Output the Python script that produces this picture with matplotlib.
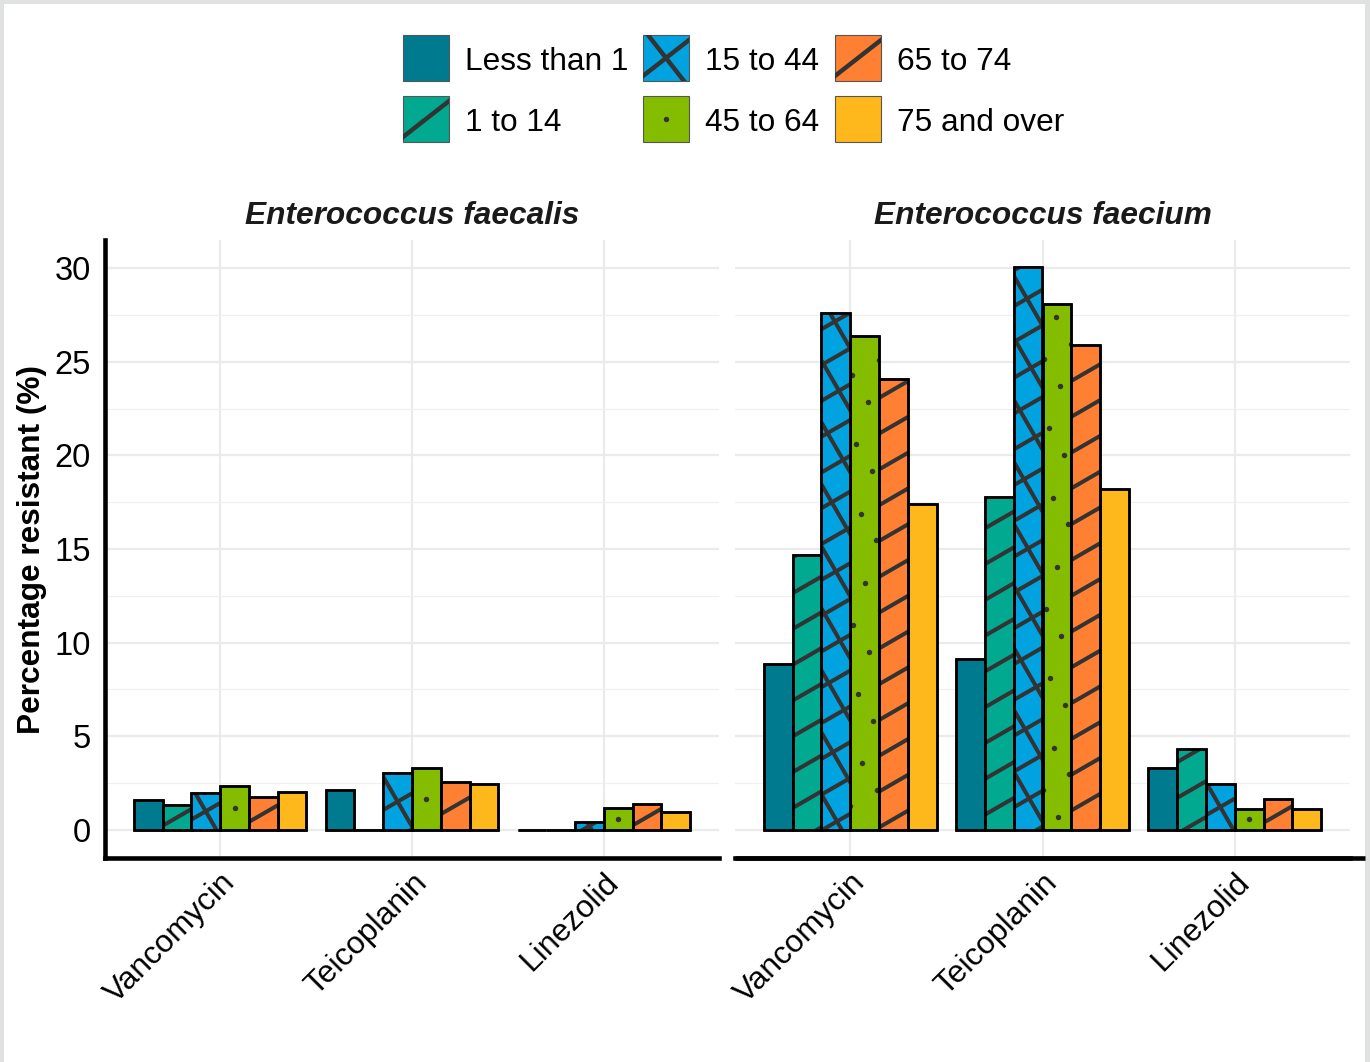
import numpy as np
import matplotlib
matplotlib.use('Agg')
import matplotlib.pyplot as plt
from matplotlib.patches import Rectangle
from matplotlib.lines import Line2D

plt.rcParams['font.family'] = ['Liberation Sans', 'DejaVu Sans']

antibiotics = ['Vancomycin', 'Teicoplanin', 'Linezolid']
age_groups = ['Less than 1', '1 to 14', '15 to 44', '45 to 64', '65 to 74', '75 and over']
species = ['Enterococcus faecalis', 'Enterococcus faecium']

# percentage resistant by age group (same order as age_groups)
faecalis_vancomycin = [1.6, 1.33, 1.99, 2.34, 1.74, 2.0]
faecalis_teicoplanin = [2.13, 0.0, 3.02, 3.29, 2.57, 2.43]
faecalis_linezolid = [0.0, 0.0, 0.43, 1.19, 1.37, 0.98]
faecium_vancomycin = [8.84, 14.7, 27.6, 26.4, 24.1, 17.4]
faecium_teicoplanin = [9.1, 17.8, 30.05, 28.1, 25.9, 18.2]
faecium_linezolid = [3.29, 4.3, 2.45, 1.12, 1.65, 1.1]

colours = ['#007A8F', '#00A98F', '#00A3E0', '#84BD00', '#FF8033', '#FFB81C']
patterns = ['none', 'stripe', 'crosshatch', 'dots', 'stripe', 'none']

W, H = 1370, 1062
FS = 22.8
INK = '#333333'

fig = plt.figure(figsize=(W / 100, H / 100), dpi=100)


def px_axes(left, top, right, bottom):
    return fig.add_axes([left / W, 1 - bottom / H, (right - left) / W, (bottom - top) / H])


def add_pattern(ax, patch, kind, spacing=31, angle=30, lw=2.9):
    # ggpattern-like fill: lines / dots laid out in pixel space, clipped to the patch
    if kind == 'none' or patch.get_height() == 0:
        return
    bb = patch.get_window_extent()
    centre = np.array([(bb.x0 + bb.x1) / 2, (bb.y0 + bb.y1) / 2])
    reach = np.hypot(bb.width, bb.height) / 2 + spacing
    n = int(reach / spacing) + 1
    to_data = ax.transData.inverted()
    if kind == 'dots':
        a = np.radians(angle)
        u = np.array([np.cos(a), np.sin(a)]) * spacing
        v = np.array([-np.sin(a), np.cos(a)]) * spacing
        pts = [centre + i * u + j * v for i in range(-n, n + 1) for j in range(-n, n + 1)]
        pts = np.array([p for p in pts
                        if bb.x0 - 3 <= p[0] <= bb.x1 + 3 and bb.y0 - 3 <= p[1] <= bb.y1 + 3])
        if len(pts):
            d = to_data.transform(pts)
            dots, = ax.plot(d[:, 0], d[:, 1], 'o', ms=3.9, color=INK, mec='none', zorder=2.5)
            dots.set_clip_path(patch)
        return
    angles = [angle] if kind == 'stripe' else [angle, angle - 90]
    for ang in angles:
        a = np.radians(ang)
        along = np.array([np.cos(a), np.sin(a)])
        normal = np.array([-np.sin(a), np.cos(a)])
        for k in range(-n, n + 1):
            p = centre + k * spacing * normal
            seg = to_data.transform([p - reach * along, p + reach * along])
            line = Line2D(seg[:, 0], seg[:, 1], color=INK, lw=lw, zorder=2.5,
                          solid_capstyle='butt')
            ax.add_line(line)
            line.set_clip_path(patch)


panel_data = [
    [faecalis_vancomycin, faecalis_teicoplanin, faecalis_linezolid],
    [faecium_vancomycin, faecium_teicoplanin, faecium_linezolid],
]
panel_px = [(105, 719), (735, 1350)]
top_px, bottom_px = 240, 858

x = np.arange(len(antibiotics))
bar_w = 0.15

for p, (values, (left, right)) in enumerate(zip(panel_data, panel_px)):
    ax = px_axes(left, top_px, right, bottom_px)
    ax.set_xlim(-0.6, len(antibiotics) - 0.4)
    ax.set_ylim(-1.5, 31.5)
    ax.set_yticks(np.arange(0, 31, 5))
    ax.set_yticks(np.arange(2.5, 31, 5), minor=True)
    ax.set_xticks(x)
    ax.grid(which='major', color='#EBEBEB', lw=1.6)
    ax.grid(which='minor', axis='y', color='#F0F0F0', lw=0.9)
    ax.set_axisbelow(True)
    for side in ['top', 'right']:
        ax.spines[side].set_visible(False)
    ax.spines['bottom'].set_linewidth(3.3)
    ax.spines['left'].set_linewidth(3.3)
    ax.spines['left'].set_visible(p == 0)
    ax.tick_params(which='both', length=0, labelsize=FS, colors='black')
    ax.tick_params(axis='y', pad=10, labelsize=23.5)
    ax.tick_params(axis='x', pad=7)
    ax.set_xticklabels(antibiotics, rotation=45, ha='right', va='top', rotation_mode='anchor')
    if p > 0:
        ax.set_yticklabels([])

    for j, group in enumerate(age_groups):
        heights = [values[a][j] for a in range(len(antibiotics))]
        bars = ax.bar(x + (j - 2.5) * bar_w, heights, width=bar_w, color=colours[j],
                      edgecolor='black', lw=1.8, zorder=2)
        for bar in bars:
            add_pattern(ax, bar, patterns[j])
            ax.add_patch(Rectangle(bar.get_xy(), bar.get_width(), bar.get_height(),
                                   fill=False, ec='black', lw=1.8, zorder=3))

    fig.text((left + right) / 2 / W, 1 - 224 / H, species[p], ha='center', va='baseline',
             fontsize=FS, fontweight='bold', fontstyle='italic', color='#1a1a1a')

fig.text(32 / W, 1 - 549 / H, 'Percentage resistant (%)', rotation=90, ha='center',
         va='center', fontsize=FS, fontweight='bold')

# legend and outer frame, drawn in pixel coordinates
lg = fig.add_axes([0, 0, 1, 1])
lg.set_xlim(0, W)
lg.set_ylim(H, 0)
lg.axis('off')

key_cols = [403, 643, 835]
key_rows = [35, 96]
for j, group in enumerate(age_groups):
    kx, ky = key_cols[j // 2], key_rows[j % 2]
    key = Rectangle((kx, ky), 46, 46, facecolor=colours[j], ec='#555555', lw=0.8, zorder=2)
    lg.add_patch(key)
    add_pattern(lg, key, patterns[j], spacing=200, angle=38, lw=3.2)
    lg.text(kx + 62, ky + 35, group, fontsize=FS, va='baseline', ha='left')

# the right-hand x axis line runs on to the edge of the figure
lg.plot([735, W - 5], [858, 858], color='black', lw=3.3, solid_capstyle='butt')

frame = '#E0E2E2'
lg.add_patch(Rectangle((0, 0), 4, H, color=frame, lw=0))
lg.add_patch(Rectangle((0, 0), W, 4, color=frame, lw=0))
lg.add_patch(Rectangle((W - 5, 0), 5, H, color=frame, lw=0))

fig.savefig('out.png', dpi=100)
